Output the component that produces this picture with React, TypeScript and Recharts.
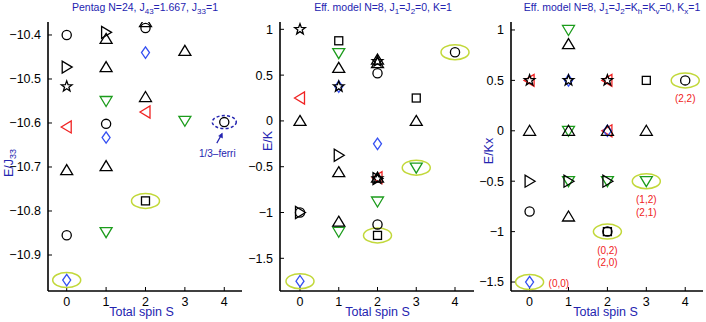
import React from 'react';
import { ScatterChart, Scatter, XAxis, YAxis } from 'recharts';

type Pt = { s: number; e: number; lines?: string[]; side?: string };
const pts = (a: number[][]): Pt[] => a.map(([s, e]) => ({ s, e }));

const spinTicks = [0, 1, 2, 3, 4];

// ---------- Panel 1: Pentag N=24 ----------
const p1Circle = pts([[0, -10.4], [0, -10.855], [1, -10.602], [2, -10.384], [4, -10.598]]);
const p1Up = pts([[0, -10.707], [1, -10.409], [1, -10.473], [1, -10.698], [2, -10.371], [2, -10.541], [3, -10.436]]);
const p1Down = pts([[1, -10.55], [1, -10.848], [3, -10.595]]);
const p1Left = pts([[0, -10.609], [2, -10.575]]);
const p1Right = pts([[0, -10.473], [1, -10.394]]);
const p1Square = pts([[2, -10.777]]);
const p1Diamond = pts([[0, -10.957], [1, -10.633], [2, -10.44]]);
const p1Star = pts([[0, -10.517]]);
const p1Highlight = pts([[0, -10.957], [2, -10.777]]);
const p1Ferri = pts([[4, -10.598]]);
const p1YTicks = [-10.9, -10.8, -10.7, -10.6, -10.5, -10.4];

// ---------- Panel 2: Eff. model, K=1 ----------
const p2Circle = pts([[0, -1.0], [2, 0.52], [2, -1.13], [4, 0.75]]);
const p2Up = pts([[0, 0], [1, 0.58], [1, -0.56], [1, -1.1], [2, 0.67], [2, 0.63], [2, -0.62], [3, 0]]);
const p2Down = pts([[1, 0.74], [1, -1.21], [2, -0.88], [3, -0.51]]);
const p2Left = pts([[0, 0.25], [2, -0.62]]);
const p2Right = pts([[0, -1.0], [1, -0.375], [2, -0.63]]);
const p2Square = pts([[1, 0.875], [2, -1.25], [3, 0.25]]);
const p2Diamond = pts([[0, -1.75], [1, 0.375], [2, -0.25]]);
const p2Star = pts([[0, 1.0], [1, 0.375], [2, -0.63], [2, 0.65]]);
const p2Highlight = pts([[0, -1.75], [2, -1.25], [3, -0.51], [4, 0.75]]);
const p2YTicks = [-1.5, -1, -0.5, 0, 0.5, 1];

// ---------- Panel 3: Eff. model, Kx=1 ----------
const p3Circle = pts([[0, -0.8], [2, -1], [4, 0.5]]);
const p3Up = pts([[0, 0], [1, 0.86], [1, 0], [2, 0], [3, 0], [1, -0.85]]);
const p3Down = pts([[1, 1], [1, 0], [1, -0.5], [2, -0.5], [3, -0.5]]);
const p3Left = pts([[0, 0.5], [2, 0.5], [2, 0]]);
const p3Right = pts([[0, -0.5], [1, -0.5], [2, -0.5]]);
const p3Square = pts([[3, 0.5], [2, -1]]);
const p3Diamond = pts([[0, -1.5], [1, 0.5], [2, 0]]);
const p3Star = pts([[0, 0.5], [1, 0.5], [2, 0.5]]);
const p3Highlight = pts([[0, -1.5], [2, -1], [3, -0.5], [4, 0.5]]);
const p3Labels: Pt[] = [
  { s: 4, e: 0.5, lines: ['(2,2)'] },
  { s: 3, e: -0.5, lines: ['(1,2)', '(2,1)'] },
  { s: 2, e: -1, lines: ['(0,2)', '(2,0)'] },
  { s: 0, e: -1.5, lines: ['(0,0)'], side: 'right' },
];
const p3YTicks = [-1.5, -1, -0.5, 0, 0.5, 1];

const minor = (from: number, to: number, step: number) => {
  const out: number[] = [];
  for (let k = 0; ; k++) {
    const v = from - k * step;
    if (v < to) break;
    out.push(+v.toFixed(5));
  }
  return out;
};

const BLACK = '#000';
const GREEN = '#1c9c1c';
const RED = '#f02222';
const BLUE = '#3550f2';
const LIME = '#c2d83a';
const NAVY = '#2424b0';
const FONT = '"Liberation Sans", Arial, sans-serif';
const SW = 1.3;

function makeShape(kind: string, color: string) {
  return (props: any) => {
    const { cx, cy, payload } = props;
    if (cx == null || cy == null) return <g />;
    const c = { fill: 'none', stroke: color, strokeWidth: SW };
    switch (kind) {
      case 'circle':
        return <circle cx={cx} cy={cy} r={4.6} {...c} />;
      case 'up':
        return <polygon points={`${cx},${cy - 5.5} ${cx + 6},${cy + 4.5} ${cx - 6},${cy + 4.5}`} {...c} />;
      case 'down':
        return <polygon points={`${cx},${cy + 5.5} ${cx + 6},${cy - 4.5} ${cx - 6},${cy - 4.5}`} {...c} />;
      case 'left':
        return <polygon points={`${cx - 5.5},${cy} ${cx + 4.5},${cy - 6} ${cx + 4.5},${cy + 6}`} {...c} />;
      case 'right':
        return <polygon points={`${cx + 5.5},${cy} ${cx - 4.5},${cy - 6} ${cx - 4.5},${cy + 6}`} {...c} />;
      case 'square':
        return <rect x={cx - 4} y={cy - 4} width={8} height={8} {...c} />;
      case 'diamond':
        return <polygon points={`${cx},${cy - 5.7} ${cx + 4},${cy} ${cx},${cy + 5.7} ${cx - 4},${cy}`} {...c} />;
      case 'star': {
        const p: string[] = [];
        for (let i = 0; i < 10; i++) {
          const r = i % 2 === 0 ? 5.6 : 2.3;
          const a = -Math.PI / 2 + (i * Math.PI) / 5;
          p.push(`${cx + r * Math.cos(a)},${cy + r * Math.sin(a)}`);
        }
        return <polygon points={p.join(' ')} {...c} />;
      }
      case 'ellipse':
        return <ellipse cx={cx} cy={cy} rx={14} ry={7.5} fill="none" stroke={LIME} strokeWidth={1.5} />;
      case 'ferri':
        return (
          <g>
            <ellipse cx={cx} cy={cy} rx={12} ry={6.5} fill="none" stroke={NAVY} strokeWidth={1.5} strokeDasharray="3 2.2" />
            <line x1={cx - 7.5} y1={cy + 21} x2={cx - 3} y2={cy + 13} stroke={NAVY} strokeWidth={1.2} />
            <polygon points={`${cx - 2},${cy + 11} ${cx - 1.8},${cy + 16} ${cx - 5.6},${cy + 13.8}`} fill={NAVY} stroke={NAVY} strokeWidth={0.6} />
            <text x={cx - 7} y={cy + 35} textAnchor="middle" fontSize={10} fill={NAVY} fontFamily={FONT}>1/3–ferri</text>
          </g>
        );
      case 'label': {
        const lines: string[] = payload?.lines || [];
        const right = payload?.side === 'right';
        return (
          <g>
            {lines.map((t, i) => (
              <text key={i} x={right ? cx + 19 : cx} y={right ? cy + 5 : cy + 22 + i * 12.5}
                textAnchor={right ? 'start' : 'middle'} fontSize={10} fill={RED} fontFamily={FONT}>{t}</text>
            ))}
          </g>
        );
      }
    }
    return <g />;
  };
}

type Series = { data: Pt[]; kind: string; color: string };

const fmt = (v: number) => (v < 0 ? '\u2212' + String(Math.abs(v)) : String(v));

function Panel(props: {
  left: number; width: number; xDomain: number[]; yDomain: number[];
  yTicks: number[]; rTicks: number[]; series: Series[];
}) {
  const { left, width, xDomain, yDomain, yTicks, rTicks, series } = props;
  const YW = 45;
  const axisLine = { stroke: '#000', strokeWidth: 1.6 };
  const tickLine = { stroke: '#000', strokeWidth: 1 };
  const tickFont = { fontSize: 12.5, fill: '#000', fontFamily: FONT };
  return (
    <div style={{ position: 'absolute', left: left - YW, top: 0 }}>
      <ScatterChart width={width + YW + 5} height={322} margin={{ top: 22, right: 5, bottom: 0, left: 0 }}>
        <XAxis xAxisId="b" type="number" dataKey="s" domain={xDomain} ticks={spinTicks} allowDataOverflow
          height={31} tickSize={-4} tickMargin={10.5} axisLine={axisLine} tickLine={tickLine} tick={tickFont} interval={0} />
        <XAxis xAxisId="t" type="number" orientation="top" domain={xDomain} ticks={spinTicks} allowDataOverflow
          height={0} tickSize={-4} axisLine={axisLine} tickLine={tickLine} tick={false} interval={0} />
        <YAxis yAxisId="l" type="number" dataKey="e" domain={yDomain} ticks={yTicks} allowDataOverflow
          width={YW} tickSize={-4} tickMargin={11} axisLine={axisLine} tickLine={tickLine} tick={tickFont}
          tickFormatter={fmt} interval={0} />
        <YAxis yAxisId="r" type="number" orientation="right" domain={yDomain} ticks={rTicks} allowDataOverflow
          width={0} tickSize={-4} axisLine={axisLine} tickLine={tickLine} tick={false} interval={0} />
        {series.map((sr, i) => (
          <Scatter key={i} xAxisId="b" yAxisId="l" data={sr.data} shape={makeShape(sr.kind, sr.color)} isAnimationActive={false} />
        ))}
      </ScatterChart>
    </div>
  );
}

const markerSeries = (c: Pt[], up: Pt[], dn: Pt[], lf: Pt[], rt: Pt[], sq: Pt[], di: Pt[], st: Pt[]): Series[] => [
  { data: lf, kind: 'left', color: RED },
  { data: di, kind: 'diamond', color: BLUE },
  { data: dn, kind: 'down', color: GREEN },
  { data: c, kind: 'circle', color: BLACK },
  { data: up, kind: 'up', color: BLACK },
  { data: rt, kind: 'right', color: BLACK },
  { data: sq, kind: 'square', color: BLACK },
  { data: st, kind: 'star', color: BLACK },
];

export default function App() {
  const s1: Series[] = [
    { data: p1Highlight, kind: 'ellipse', color: LIME },
    ...markerSeries(p1Circle, p1Up, p1Down, p1Left, p1Right, p1Square, p1Diamond, p1Star),
    { data: p1Ferri, kind: 'ferri', color: NAVY },
  ];
  const s2: Series[] = [
    { data: p2Highlight, kind: 'ellipse', color: LIME },
    ...markerSeries(p2Circle, p2Up, p2Down, p2Left, p2Right, p2Square, p2Diamond, p2Star),
  ];
  const s3: Series[] = [
    { data: p3Highlight, kind: 'ellipse', color: LIME },
    ...markerSeries(p3Circle, p3Up, p3Down, p3Left, p3Right, p3Square, p3Diamond, p3Star),
    { data: p3Labels, kind: 'label', color: RED },
  ];
  const tStyle = { fontFamily: FONT, fill: NAVY };
  return (
    <div style={{ position: 'absolute', left: 0, top: 0, width: 706, height: 322, background: '#fff', overflow: 'hidden' }}>
      <Panel left={48} width={194} xDomain={[-0.475, 4.45]} yDomain={[-10.9818, -10.3705]}
        yTicks={p1YTicks} rTicks={minor(-10.4, -10.98, 0.1 / 3)} series={s1} />
      <Panel left={280} width={194} xDomain={[-0.516, 4.49]} yDomain={[-1.857, 1.08]}
        yTicks={p2YTicks} rTicks={minor(1, -1.857, 0.5 / 3)} series={s2} />
      <Panel left={511} width={192} xDomain={[-0.478, 4.457]} yDomain={[-1.589, 1.079]}
        yTicks={p3YTicks} rTicks={p3YTicks} series={s3} />
      <svg width={706} height={322} style={{ position: 'absolute', left: 0, top: 0, pointerEvents: 'none' }}>
        <g {...tStyle} fontSize={10.5}>
          <text x={145} y={11} textAnchor="middle">
            Pentag N=24, J<tspan dy={3} fontSize={8}>43</tspan><tspan dy={-3}>=1.667, J</tspan><tspan dy={3} fontSize={8}>33</tspan><tspan dy={-3}>=1</tspan>
          </text>
          <text x={383} y={11} textAnchor="middle">
            Eff. model N=8, J<tspan dy={3} fontSize={8}>1</tspan><tspan dy={-3}>=J</tspan><tspan dy={3} fontSize={8}>2</tspan><tspan dy={-3}>=0, K=1</tspan>
          </text>
          <text x={612} y={11} textAnchor="middle">
            Eff. model N=8, J<tspan dy={3} fontSize={8}>1</tspan><tspan dy={-3}>=J</tspan><tspan dy={3} fontSize={8}>2</tspan><tspan dy={-3}>=K</tspan><tspan dy={3} fontSize={8}>h</tspan><tspan dy={-3}>=K</tspan><tspan dy={3} fontSize={8}>v</tspan><tspan dy={-3}>=0, K</tspan><tspan dy={3} fontSize={8}>x</tspan><tspan dy={-3}>=1</tspan>
          </text>
        </g>
        <g {...tStyle} fontSize={12.5}>
          <text x={141.5} y={316} textAnchor="middle">Total spin S</text>
          <text x={377.5} y={316} textAnchor="middle">Total spin S</text>
          <text x={605.5} y={316} textAnchor="middle">Total spin S</text>
          <text transform="translate(13,163) rotate(-90)" textAnchor="middle">
            E/J<tspan dy={3} fontSize={9}>33</tspan>
          </text>
          <text transform="translate(272,141) rotate(-90)" textAnchor="middle">E/K</text>
          <text transform="translate(493,151) rotate(-90)" textAnchor="middle">E/Kx</text>
        </g>
      </svg>
    </div>
  );
}
